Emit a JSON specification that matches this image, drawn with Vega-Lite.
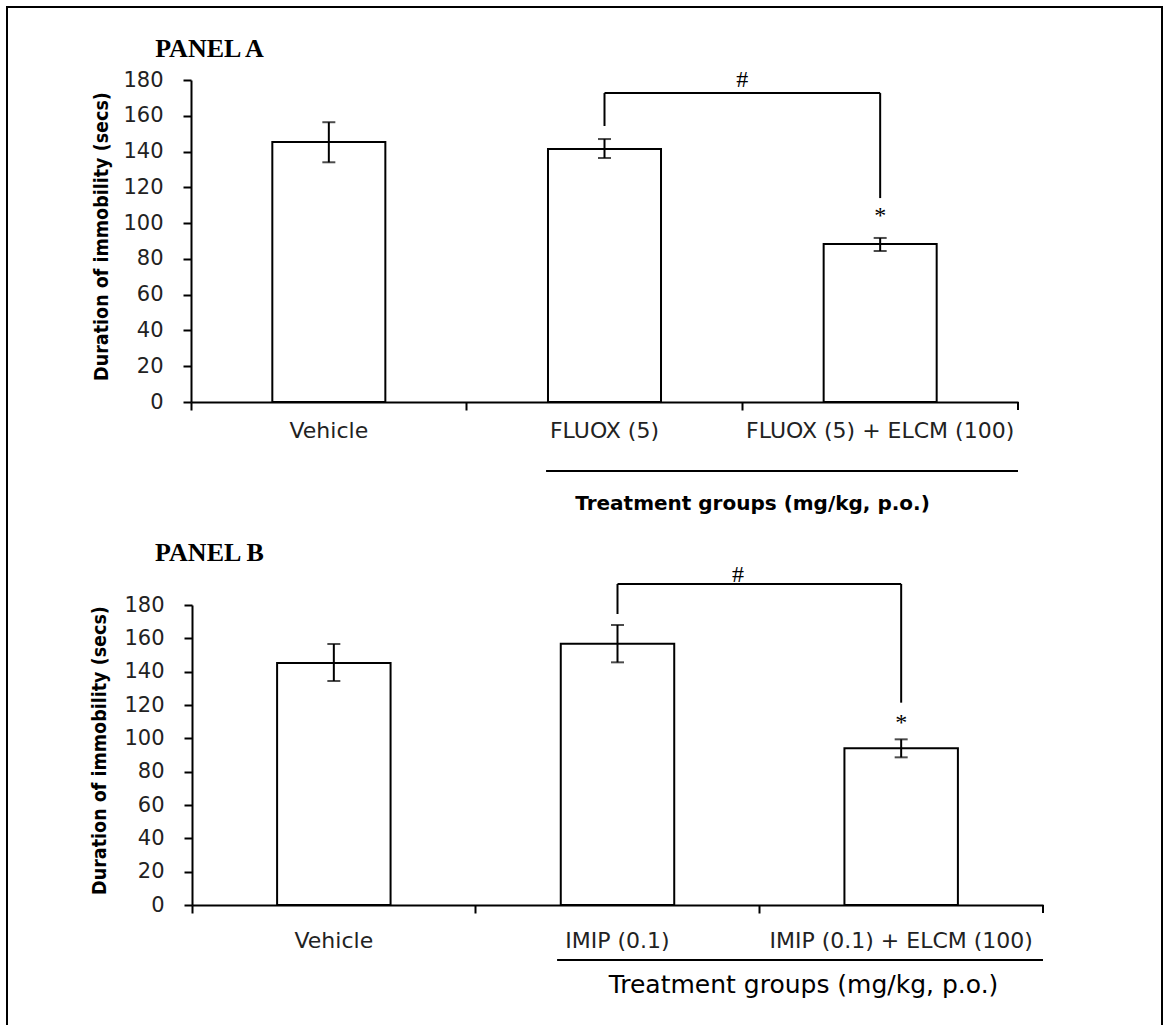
{
  "$schema": "https://vega.github.io/schema/vega-lite/v6.json",
  "width": 1155,
  "height": 1018,
  "autosize": {"type": "none"},
  "padding": {"left": 7, "top": 7, "right": 2, "bottom": 0},
  "background": "white",
  "config": {
    "view": {"stroke": "black", "strokeWidth": 2, "strokeDash": [2173, 1155, 1100]},
    "axis": {"domainColor": "black", "domainWidth": 2, "tickColor": "black", "tickWidth": 2, "tickSize": 8, "grid": false, "labelFont": "DejaVu Sans", "labelColor": "#222", "titleColor": "black", "labelOverlap": false, "labelLimit": 0}
  },
  "datasets": {
    "barsA": [
      {"group": "Vehicle", "mean": 145.3, "lo": 134, "hi": 156.4},
      {"group": "FLUOX (5)", "mean": 141.4, "lo": 136.4, "hi": 147},
      {"group": "FLUOX (5) + ELCM (100)", "mean": 88.3, "lo": 84.4, "hi": 91.7}
    ],
    "barsB": [
      {"group": "Vehicle", "mean": 145.2, "lo": 134.4, "hi": 156.6},
      {"group": "IMIP (0.1)", "mean": 156.8, "lo": 145.6, "hi": 168},
      {"group": "IMIP (0.1) + ELCM (100)", "mean": 94, "lo": 88.6, "hi": 99.4}
    ],
    "bracketA": [
      {"from": "FLUOX (5)", "to": "FLUOX (5) + ELCM (100)", "top": 172.7, "bottom": 172.7},
      {"from": "FLUOX (5)", "to": "FLUOX (5)", "top": 172.7, "bottom": 154.3},
      {"from": "FLUOX (5) + ELCM (100)", "to": "FLUOX (5) + ELCM (100)", "top": 172.7, "bottom": 114}
    ],
    "bracketB": [
      {"from": "IMIP (0.1)", "to": "IMIP (0.1) + ELCM (100)", "top": 192.6, "bottom": 192.6},
      {"from": "IMIP (0.1)", "to": "IMIP (0.1)", "top": 192.6, "bottom": 174.6},
      {"from": "IMIP (0.1) + ELCM (100)", "to": "IMIP (0.1) + ELCM (100)", "top": 192.6, "bottom": 121.4}
    ],
    "hashA": [{"group": "FLUOX (5)", "label": "#", "v": 180}],
    "starA": [{"group": "FLUOX (5) + ELCM (100)", "label": "*", "v": 104}],
    "hashB": [{"group": "IMIP (0.1)", "label": "#", "v": 198}],
    "starB": [{"group": "IMIP (0.1) + ELCM (100)", "label": "*", "v": 109}]
  },
  "layer": [
    {
      "layer": [
        {
          "data": {"name": "barsA"},
          "mark": {"type": "bar", "fill": "white", "stroke": "black", "strokeWidth": 2, "width": {"band": 0.41}},
          "encoding": {
            "x": {
              "field": "group", "type": "nominal",
              "scale": {"domain": ["Vehicle", "FLUOX (5)", "FLUOX (5) + ELCM (100)"], "range": [184, 1011], "paddingInner": 0, "paddingOuter": 0},
              "axis": {"orient": "bottom", "offset": -623, "bandPosition": 0, "labelAngle": 0, "labelFontSize": 22, "labelPadding": 27, "labelBaseline": "alphabetic",
                "title": "Treatment groups (mg/kg, p.o.)", "titleFont": "DejaVu Sans", "titleFontSize": 20, "titleFontWeight": "bold", "titleX": 745, "titleY": 107, "titleBaseline": "alphabetic", "titleAlign": "center"}
            },
            "y": {
              "field": "mean", "type": "quantitative",
              "scale": {"domain": [0, 180], "range": [395, 73], "nice": false},
              "axis": {"orient": "left", "offset": -184, "values": [0, 20, 40, 60, 80, 100, 120, 140, 160, 180], "labelFontSize": 21, "labelPadding": 20, "labelBaseline": "middle",
                "title": "Duration of immobility (secs)", "titleFont": "DejaVu Sans Condensed, DejaVu Sans", "titleFontSize": 19.5, "titleFontWeight": "bold", "titleAngle": 270, "titleX": -90, "titleY": 229, "titleBaseline": "middle", "titleAlign": "center"}
            }
          }
        },
        {
          "data": {"name": "barsA"},
          "mark": {"type": "rule", "color": "black", "strokeWidth": 2},
          "encoding": {"x": {"field": "group", "type": "nominal"}, "y": {"field": "lo", "type": "quantitative"}, "y2": {"field": "hi"}}
        },
        {
          "data": {"name": "barsA"},
          "mark": {"type": "tick", "color": "black", "size": 13, "thickness": 2},
          "encoding": {"x": {"field": "group", "type": "nominal"}, "y": {"field": "lo", "type": "quantitative"}}
        },
        {
          "data": {"name": "barsA"},
          "mark": {"type": "tick", "color": "black", "size": 13, "thickness": 2},
          "encoding": {"x": {"field": "group", "type": "nominal"}, "y": {"field": "hi", "type": "quantitative"}}
        },
        {
          "data": {"name": "bracketA"},
          "mark": {"type": "rule", "color": "black", "strokeWidth": 2},
          "encoding": {"x": {"field": "from", "type": "nominal"}, "x2": {"field": "to"}, "y": {"field": "top", "type": "quantitative"}, "y2": {"field": "bottom"}}
        },
        {
          "data": {"name": "hashA"},
          "mark": {"type": "text", "font": "Liberation Serif", "fontSize": 24, "color": "black", "baseline": "middle"},
          "encoding": {"x": {"field": "group", "type": "nominal", "bandPosition": 1}, "y": {"field": "v", "type": "quantitative"}, "text": {"field": "label"}}
        },
        {
          "data": {"name": "starA"},
          "mark": {"type": "text", "font": "Liberation Serif", "fontSize": 24, "color": "black", "baseline": "middle"},
          "encoding": {"x": {"field": "group", "type": "nominal"}, "y": {"field": "v", "type": "quantitative"}, "text": {"field": "label"}}
        },
        {
          "data": {"values": [{}]},
          "mark": {"type": "rule", "color": "black", "strokeWidth": 2},
          "encoding": {"x": {"datum": "FLUOX (5) + ELCM (100)", "bandPosition": 1}, "y": {"datum": 0}, "y2": {"datum": -4.5}}
        },
        {
          "data": {"values": [{}]},
          "mark": {"type": "rule", "color": "black", "strokeWidth": 2},
          "encoding": {"x": {"datum": "FLUOX (5)", "bandPosition": 0.288}, "x2": {"datum": "FLUOX (5) + ELCM (100)", "bandPosition": 1}, "y": {"datum": -38.6}}
        },
        {
          "data": {"values": [{}]},
          "mark": {"type": "text", "text": "PANEL A", "font": "Liberation Serif", "fontSize": 26, "fontWeight": "bold", "color": "black", "align": "left", "baseline": "alphabetic"},
          "encoding": {"x": {"datum": "Vehicle", "bandPosition": -0.13}, "y": {"datum": 192.8}}
        }
      ]
    },
    {
      "layer": [
        {
          "data": {"name": "barsB"},
          "mark": {"type": "bar", "fill": "white", "stroke": "black", "strokeWidth": 2, "width": {"band": 0.4}},
          "encoding": {
            "x": {
              "field": "group", "type": "nominal",
              "scale": {"domain": ["Vehicle", "IMIP (0.1)", "IMIP (0.1) + ELCM (100)"], "range": [185, 1036], "paddingInner": 0, "paddingOuter": 0},
              "axis": {"orient": "bottom", "offset": -120, "bandPosition": 0, "labelAngle": 0, "labelFontSize": 22, "labelPadding": 34, "labelBaseline": "alphabetic",
                "title": "Treatment groups (mg/kg, p.o.)", "titleFont": "DejaVu Sans", "titleFontSize": 25, "titleFontWeight": "normal", "titleX": 796, "titleY": 87, "titleBaseline": "alphabetic", "titleAlign": "center"}
            },
            "y": {
              "field": "mean", "type": "quantitative",
              "scale": {"domain": [0, 180], "range": [898, 598], "nice": false},
              "axis": {"orient": "left", "offset": -185, "values": [0, 20, 40, 60, 80, 100, 120, 140, 160, 180], "labelFontSize": 21, "labelPadding": 20, "labelBaseline": "middle",
                "title": "Duration of immobility (secs)", "titleFont": "DejaVu Sans Condensed, DejaVu Sans", "titleFontSize": 19.5, "titleFontWeight": "bold", "titleAngle": 270, "titleX": -93, "titleY": 743, "titleBaseline": "middle", "titleAlign": "center"}
            }
          }
        },
        {
          "data": {"name": "barsB"},
          "mark": {"type": "rule", "color": "black", "strokeWidth": 2},
          "encoding": {"x": {"field": "group", "type": "nominal"}, "y": {"field": "lo", "type": "quantitative"}, "y2": {"field": "hi"}}
        },
        {
          "data": {"name": "barsB"},
          "mark": {"type": "tick", "color": "black", "size": 13, "thickness": 2},
          "encoding": {"x": {"field": "group", "type": "nominal"}, "y": {"field": "lo", "type": "quantitative"}}
        },
        {
          "data": {"name": "barsB"},
          "mark": {"type": "tick", "color": "black", "size": 13, "thickness": 2},
          "encoding": {"x": {"field": "group", "type": "nominal"}, "y": {"field": "hi", "type": "quantitative"}}
        },
        {
          "data": {"name": "bracketB"},
          "mark": {"type": "rule", "color": "black", "strokeWidth": 2},
          "encoding": {"x": {"field": "from", "type": "nominal"}, "x2": {"field": "to"}, "y": {"field": "top", "type": "quantitative"}, "y2": {"field": "bottom"}}
        },
        {
          "data": {"name": "hashB"},
          "mark": {"type": "text", "font": "Liberation Serif", "fontSize": 24, "color": "black", "baseline": "middle"},
          "encoding": {"x": {"field": "group", "type": "nominal", "bandPosition": 0.925}, "y": {"field": "v", "type": "quantitative"}, "text": {"field": "label"}}
        },
        {
          "data": {"name": "starB"},
          "mark": {"type": "text", "font": "Liberation Serif", "fontSize": 24, "color": "black", "baseline": "middle"},
          "encoding": {"x": {"field": "group", "type": "nominal"}, "y": {"field": "v", "type": "quantitative"}, "text": {"field": "label"}}
        },
        {
          "data": {"values": [{}]},
          "mark": {"type": "rule", "color": "black", "strokeWidth": 2},
          "encoding": {"x": {"datum": "IMIP (0.1) + ELCM (100)", "bandPosition": 1}, "y": {"datum": 0}, "y2": {"datum": -4.8}}
        },
        {
          "data": {"values": [{}]},
          "mark": {"type": "rule", "color": "black", "strokeWidth": 2},
          "encoding": {"x": {"datum": "IMIP (0.1)", "bandPosition": 0.287}, "x2": {"datum": "IMIP (0.1) + ELCM (100)", "bandPosition": 1}, "y": {"datum": -33}}
        },
        {
          "data": {"values": [{}]},
          "mark": {"type": "text", "text": "PANEL B", "font": "Liberation Serif", "fontSize": 26, "fontWeight": "bold", "color": "black", "align": "left", "baseline": "alphabetic"},
          "encoding": {"x": {"datum": "Vehicle", "bandPosition": -0.13}, "y": {"datum": 206.4}}
        }
      ]
    }
  ],
  "resolve": {"scale": {"x": "independent", "y": "independent"}, "axis": {"x": "independent", "y": "independent"}}
}
